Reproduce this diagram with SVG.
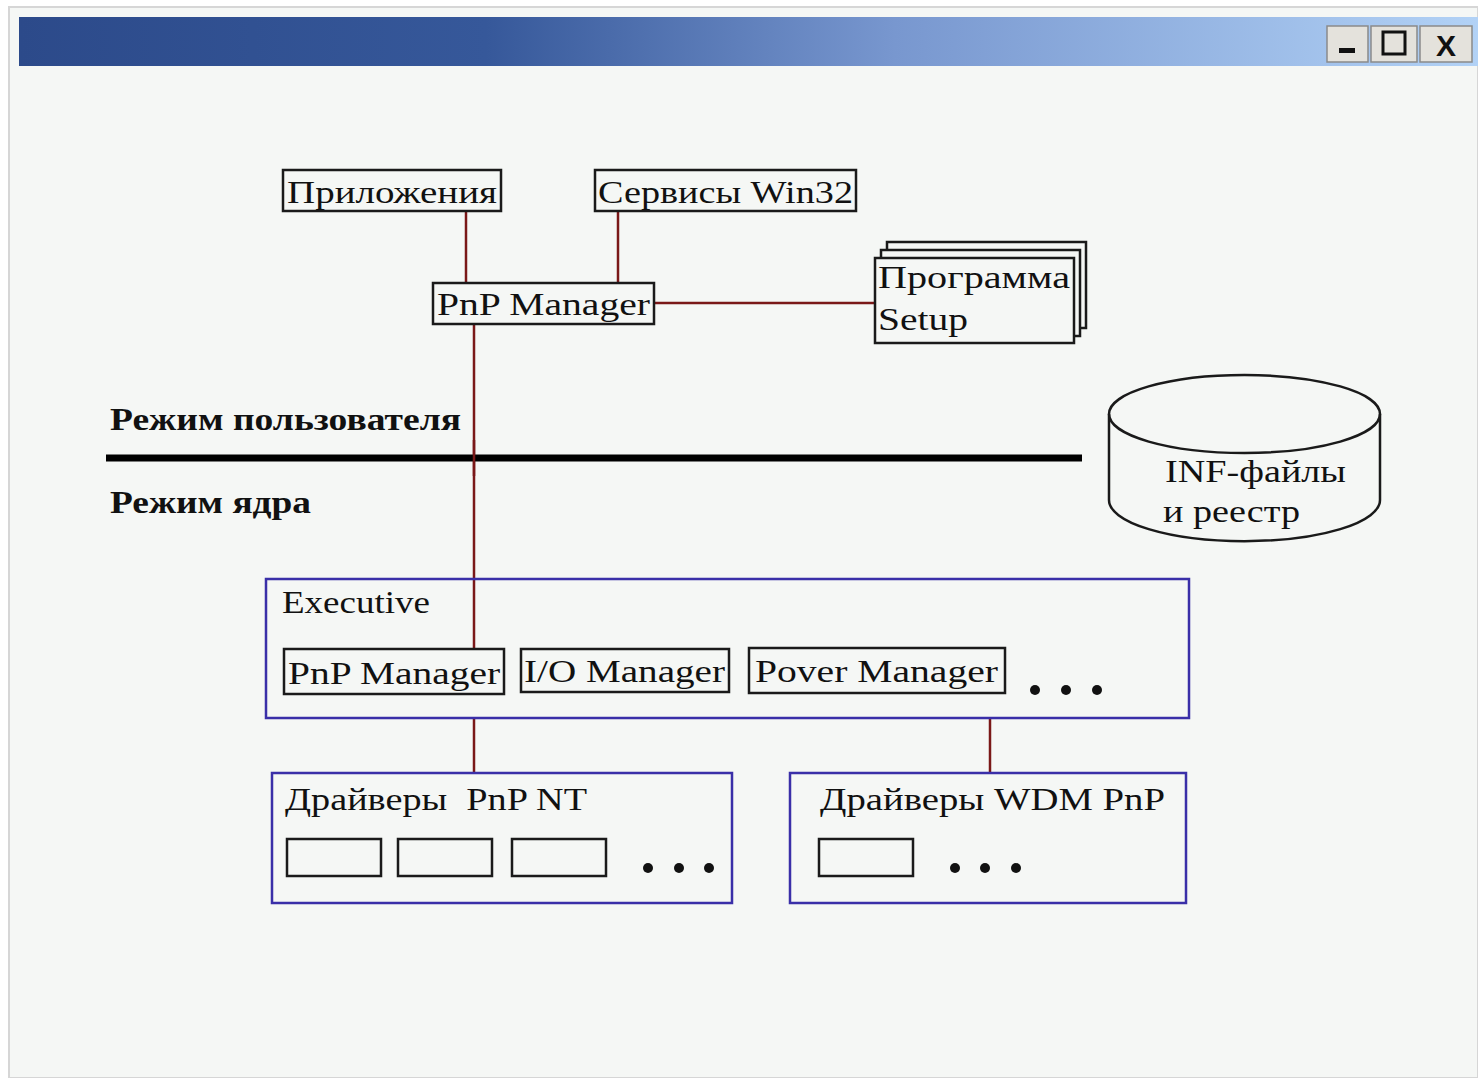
<svg xmlns="http://www.w3.org/2000/svg" width="1478" height="1078" viewBox="0 0 1478 1078">
<defs>
<linearGradient id="tb" x1="0" y1="0" x2="1" y2="0">
<stop offset="0" stop-color="#2c4a8a"/>
<stop offset="0.32" stop-color="#36589a"/>
<stop offset="0.6" stop-color="#7897cf"/>
<stop offset="1" stop-color="#b2d2f6"/>
</linearGradient>
<style>
.t{font-family:"Liberation Serif","DejaVu Serif",serif;font-size:32px;fill:#111}
.b{font-family:"Liberation Serif","DejaVu Serif",serif;font-size:32px;font-weight:bold;fill:#111}
.bx{fill:none;stroke:#1a1a1a;stroke-width:2.5}
.bf{fill:#f5f7f5;stroke:#1a1a1a;stroke-width:2.5}
.bl{fill:none;stroke:#3a2fa8;stroke-width:2.5}
.c{stroke:#7a1818;stroke-width:2.5;fill:none}
.btn{fill:#e4e2dc;stroke:#8a8a8a;stroke-width:1.5}
.d{fill:#111}
</style>
</defs>
<rect x="0" y="0" width="1478" height="1078" fill="#ffffff"/>
<rect x="9" y="7" width="1469" height="1071" fill="#f5f7f5" stroke="#d6d6d6" stroke-width="2"/>
<g id="titlebar">
<rect x="19" y="17" width="1459" height="49" fill="url(#tb)"/>
<rect class="btn" x="1327" y="26" width="41" height="36"/>
<rect x="1339" y="48" width="16" height="5" fill="#111"/>
<rect class="btn" x="1371" y="26" width="46" height="36"/>
<rect x="1383" y="32" width="22" height="22" fill="none" stroke="#111" stroke-width="3"/>
<rect class="btn" x="1420" y="26" width="52" height="36"/>
<text x="1446" y="56" text-anchor="middle" font-family="Liberation Sans,sans-serif" font-size="30" font-weight="bold" fill="#111">X</text>
</g>
<g id="connectors">
<line class="c" x1="466" y1="211" x2="466" y2="283"/>
<line class="c" x1="618" y1="211" x2="618" y2="283"/>
<line class="c" x1="654" y1="303" x2="874" y2="303"/>
<line class="c" x1="474" y1="324" x2="474" y2="649"/>
<line class="c" x1="474" y1="718" x2="474" y2="773"/>
<line class="c" x1="990" y1="718" x2="990" y2="773"/>
</g>
<g id="divider">
<line x1="106" y1="458" x2="1082" y2="458" stroke="#000" stroke-width="7"/>
<text class="b" x="110" y="430" textLength="351" lengthAdjust="spacingAndGlyphs">Режим пользователя</text>
<text class="b" x="110" y="513" textLength="201" lengthAdjust="spacingAndGlyphs">Режим ядра</text>
</g>
<line class="c" x1="474" y1="440" x2="474" y2="476"/>
<g id="apps">
<rect class="bx" x="283" y="170" width="218" height="41"/>
<text class="t" x="287" y="203" textLength="210" lengthAdjust="spacingAndGlyphs">Приложения</text>
</g>
<g id="win32">
<rect class="bx" x="595" y="170" width="261" height="41"/>
<text class="t" x="598" y="203" textLength="255" lengthAdjust="spacingAndGlyphs">Сервисы Win32</text>
</g>
<g id="pnp-user">
<rect class="bx" x="433" y="283" width="221" height="41"/>
<text class="t" x="437" y="315" textLength="213" lengthAdjust="spacingAndGlyphs">PnP Manager</text>
</g>
<g id="setup">
<rect class="bf" x="887" y="242" width="199" height="86"/>
<rect class="bf" x="881" y="250" width="199" height="86"/>
<rect class="bf" x="875" y="258" width="199" height="85"/>
<text class="t" x="878" y="288" textLength="192" lengthAdjust="spacingAndGlyphs">Программа</text>
<text class="t" x="878" y="330" textLength="90" lengthAdjust="spacingAndGlyphs">Setup</text>
</g>
<g id="inf">
<path class="bx" d="M1109,414 L1109,500 A135,41 0 0 0 1380,500 L1380,414"/>
<ellipse class="bx" cx="1244.5" cy="414" rx="135.5" ry="39"/>
<text class="t" x="1165" y="482" textLength="181" lengthAdjust="spacingAndGlyphs">INF-файлы</text>
<text class="t" x="1163" y="522" textLength="137" lengthAdjust="spacingAndGlyphs">и реестр</text>
</g>
<g id="executive">
<rect class="bl" x="266" y="579" width="923" height="139"/>
<text class="t" x="282" y="613" textLength="148" lengthAdjust="spacingAndGlyphs">Executive</text>
</g>
<g id="pnp-kernel">
<rect class="bx" x="284" y="649" width="220" height="45"/>
<text class="t" x="288" y="684" textLength="212" lengthAdjust="spacingAndGlyphs">PnP Manager</text>
</g>
<g id="io">
<rect class="bx" x="521" y="649" width="208" height="43"/>
<text class="t" x="524" y="682" textLength="201" lengthAdjust="spacingAndGlyphs">I/O Manager</text>
</g>
<g id="power">
<rect class="bx" x="749" y="648" width="256" height="45"/>
<text class="t" x="755" y="682" textLength="243" lengthAdjust="spacingAndGlyphs">Pover Manager</text>
</g>
<g id="exec-dots">
<circle class="d" cx="1035" cy="690" r="5"/><circle class="d" cx="1066" cy="690" r="5"/><circle class="d" cx="1097" cy="690" r="5"/>
</g>
<g id="nt-drivers">
<rect class="bl" x="272" y="773" width="460" height="130"/>
<text class="t" x="285" y="810" textLength="302" lengthAdjust="spacingAndGlyphs" xml:space="preserve">Драйверы  PnP NT</text>
<rect class="bx" x="287" y="839" width="94" height="37"/>
<rect class="bx" x="398" y="839" width="94" height="37"/>
<rect class="bx" x="512" y="839" width="94" height="37"/>
<circle class="d" cx="648" cy="868" r="5"/><circle class="d" cx="679" cy="868" r="5"/><circle class="d" cx="709" cy="868" r="5"/>
</g>
<g id="wdm-drivers">
<rect class="bl" x="790" y="773" width="396" height="130"/>
<text class="t" x="820" y="810" textLength="345" lengthAdjust="spacingAndGlyphs">Драйверы WDM PnP</text>
<rect class="bx" x="819" y="839" width="94" height="37"/>
<circle class="d" cx="955" cy="868" r="5"/><circle class="d" cx="985" cy="868" r="5"/><circle class="d" cx="1016" cy="868" r="5"/>
</g>
</svg>
